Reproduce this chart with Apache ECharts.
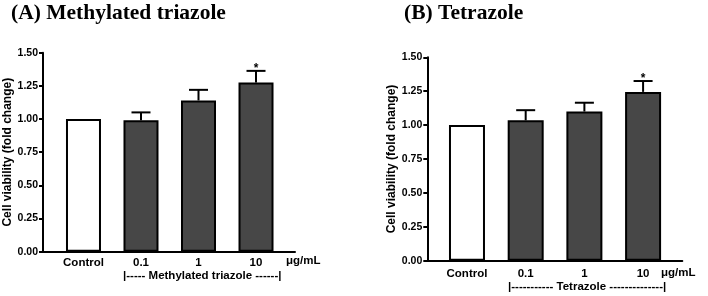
<!DOCTYPE html>
<html><head><meta charset="utf-8">
<script src="https://cdn.jsdelivr.net/npm/echarts@6/dist/echarts.min.js"></script>
<style>html,body{margin:0;padding:0;background:#fff}#c{width:708px;height:296px}</style>
</head><body><div id="c"></div>
<script>
const categories = ['Control', '0.1', '1', '10'];
const triazoleMean = [1.00, 0.99, 1.14, 1.275];
const triazoleErr = [0, 0.06, 0.08, 0.088];
const triazoleSig = ['', '', '', '*'];
const tetrazoleMean = [1.00, 1.035, 1.10, 1.245];
const tetrazoleErr = [0, 0.075, 0.065, 0.08];
const tetrazoleSig = ['', '', '', '*'];
const yTickLabels = ['0.00', '0.25', '0.50', '0.75', '1.00', '1.25', '1.50'];
const unitLabel = 'μg/mL';
const groupA = '|----- Methylated triazole ------|';
const groupB = '|----------- Tetrazole --------------|';

const SANS = 'Liberation Sans, Arial, sans-serif';
const SERIF = 'Liberation Serif, Times New Roman, serif';
const barColors = ['#ffffff', '#474747', '#474747', '#474747'];

function barData(means) {
  return means.map((m, i) => ({ value: [i, m], itemStyle: { color: barColors[i] } }));
}
function errData(means, errs, sig) {
  return means.map((m, i) => [i, m, errs[i], sig[i]]);
}
function makeErrSeries(means, errs, sig, idx) {
  return {
    type: 'custom', xAxisIndex: idx, yAxisIndex: idx, z: 1,
    data: errData(means, errs, sig),
    renderItem: function (params, api) {
      const x = api.value(0), y = api.value(1), e = api.value(2);
      const s = sig[params.dataIndex];
      const children = [];
      const p0 = api.coord([x, y]);
      const p1 = api.coord([x, y + e]);
      if (e > 0) {
        children.push({ type: 'line', shape: { x1: p0[0], y1: p0[1], x2: p1[0], y2: p1[1] }, style: { stroke: '#000', lineWidth: 2 } });
        children.push({ type: 'line', shape: { x1: p1[0] - 9.5, y1: p1[1], x2: p1[0] + 9.5, y2: p1[1] }, style: { stroke: '#000', lineWidth: 2 } });
      }
      if (s) {
        children.push({ type: 'text', x: p1[0], y: p1[1] - 2, style: { text: s, fill: '#000', font: 'bold 12px ' + SANS, align: 'center', verticalAlign: 'middle' } });
      }
      return { type: 'group', children };
    }
  };
}
function xAxisCfg(idx, min, max, margin) {
  return {
    type: 'value', gridIndex: idx, min: min, max: max,
    splitLine: { show: false },
    axisTick: { show: false },
    axisLine: { lineStyle: { color: '#000', width: 2 } },
    axisLabel: {
      customValues: [0, 1, 2, 3],
      formatter: v => categories[Math.round(v)],
      color: '#000', fontFamily: SANS, fontWeight: 'bold', fontSize: 11.5, margin: margin
    }
  };
}
function yAxisCfg(idx) {
  return {
    type: 'value', gridIndex: idx, min: 0, max: 1.5, interval: 0.25,
    name: 'Cell viability (fold change)', nameLocation: 'middle', nameGap: 29,
    nameTextStyle: { color: '#000', fontFamily: SANS, fontWeight: 'bold', fontSize: 12 },
    splitLine: { show: false },
    axisLine: { onZero: false, lineStyle: { color: '#000', width: 2 } },
    axisTick: { length: 4, lineStyle: { color: '#000', width: 2 } },
    axisLabel: {
      formatter: v => yTickLabels[Math.round(v / 0.25)],
      color: '#000', fontFamily: SANS, fontWeight: 'bold', fontSize: 10.5, margin: 5
    }
  };
}

const chart = echarts.init(document.getElementById('c'), null, { renderer: 'canvas' });
chart.setOption({
  animation: false,
  backgroundColor: '#fff',
  title: [
    { text: '(A) Methylated triazole', left: 6, top: -3, textStyle: { fontFamily: SERIF, fontWeight: 'bold', fontSize: 21.5, color: '#000' } },
    { text: '(B) Tetrazole', left: 399, top: -3, textStyle: { fontFamily: SERIF, fontWeight: 'bold', fontSize: 21.5, color: '#000' } }
  ],
  grid: [
    { left: 43, top: 52.7, width: 252, height: 199 },
    { left: 427.3, top: 57.3, width: 255, height: 203.4 }
  ],
  xAxis: [xAxisCfg(0, -0.704, 3.678, 5), xAxisCfg(1, -0.676, 3.668, 7)],
  yAxis: [yAxisCfg(0), yAxisCfg(1)],
  series: [
    { type: 'bar', xAxisIndex: 0, yAxisIndex: 0, barWidth: 35, data: barData(triazoleMean), itemStyle: { borderColor: '#000', borderWidth: 2 }, z: 2 },
    makeErrSeries(triazoleMean, triazoleErr, triazoleSig, 0),
    { type: 'bar', xAxisIndex: 1, yAxisIndex: 1, barWidth: 36, data: barData(tetrazoleMean), itemStyle: { borderColor: '#000', borderWidth: 2 }, z: 2 },
    makeErrSeries(tetrazoleMean, tetrazoleErr, tetrazoleSig, 1)
  ],
  graphic: [
    { type: 'text', left: 286, top: 255, style: { text: unitLabel, fill: '#000', font: 'bold 11.5px ' + SANS } },
    { type: 'text', left: 123, top: 270, style: { text: groupA, fill: '#000', font: 'bold 11.5px ' + SANS } },
    { type: 'text', left: 661, top: 267, style: { text: unitLabel, fill: '#000', font: 'bold 11.5px ' + SANS } },
    { type: 'text', left: 508, top: 281, style: { text: groupB, fill: '#000', font: 'bold 11.5px ' + SANS } }
  ]
});
</script></body></html>
